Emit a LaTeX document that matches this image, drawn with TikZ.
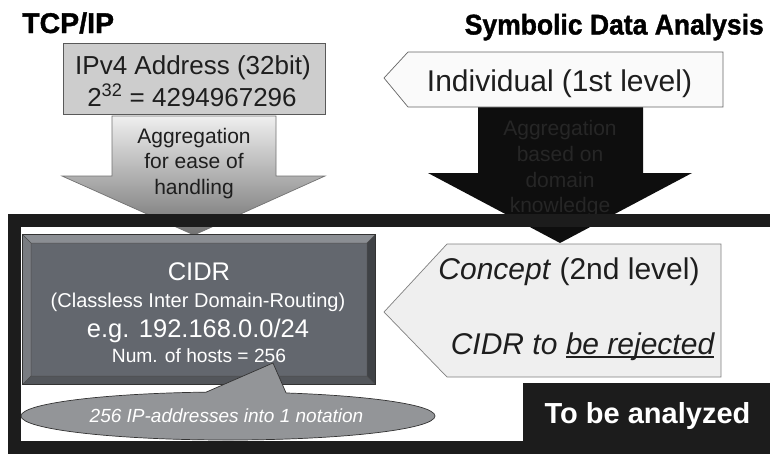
\documentclass[tikz,border=0pt]{standalone}
\usepackage{fontspec}
\setmainfont{Liberation Sans}
\newfontfamily\titlefont{Liberation Sans Bold}[FakeBold=1.3]
\newfontfamily\titlecond{Liberation Sans Bold}[FakeBold=1.3,FakeStretch=0.93]
\usetikzlibrary{shapes.geometric}
\definecolor{frameblk}{HTML}{1C1C1C}
\definecolor{ipfill}{HTML}{CDCDCD}
\definecolor{indfill}{HTML}{FAFAFA}
\definecolor{confill}{HTML}{EFEFEF}
\definecolor{txtdark}{HTML}{1E1E1E}
\definecolor{blkarrow}{HTML}{0E0E0E}
\definecolor{blktxt}{HTML}{262626}
\definecolor{cface}{HTML}{63676E}
\definecolor{cbtop}{HTML}{8B8E93}
\definecolor{cbleft}{HTML}{797C81}
\definecolor{cbbot}{HTML}{53565B}
\definecolor{cbright}{HTML}{3F4246}
\definecolor{notefill}{HTML}{939598}
\definecolor{arrtop}{HTML}{EFEFEF}
\definecolor{arrbot}{HTML}{727272}
\newcommand\fs[1]{\fontsize{#1}{#1}\selectfont}
\newcommand\thickul[1]{\setbox0\hbox{#1}\rlap{\rule[-4pt]{\wd0}{1.8pt}}\box0}
\begin{document}
\begin{tikzpicture}[x=1pt,y=-1pt,
  txt/.style={inner sep=0, anchor=base, text=txtdark},
  shapeline/.style={line width=0.7}]
\useasboundingbox (0,0) rectangle (770,453);
\clip (0,0) rectangle (770,453);
\fill[white] (0,0) rectangle (770,453);

% titles
\node[txt, anchor=base west, text=black, font=\titlefont\fs{28.5}] (tcp) at (22,33) {TCP/IP};
\node[txt, anchor=base east, text=black, font=\titlecond\fs{28.5}] (sda) at (764,34.5) {Symbolic Data Analysis};

% gray arrow
\path[top color=arrtop, bottom color=arrbot, draw=black!55, shapeline]
  (112,116) -- (276,116) -- (276,176) -- (325,176) -- (194,235) -- (62,176) -- (112,176) -- cycle;
% black arrow
\fill[blkarrow] (478,107) -- (643,107) -- (643,173) -- (692,173) -- (560,243) -- (428,173) -- (478,173) -- cycle;

% IPv4 box
\node[draw=black!65, fill=ipfill, shapeline, minimum width=262, minimum height=71, inner sep=0] (ipv4) at (194,78.5) {};
\node[txt, font=\fs{26}] (ipv4a) at (193,74) {IPv4 Address (32bit)};
\node[txt, font=\fs{26}] (ipv4b) at (192,106) {2\textsuperscript{32} = 4294967296};

% Individual
\draw[fill=indfill, draw=black!60, shapeline] (384,78) -- (408,52) -- (723,52) -- (723,107) -- (408,107) -- cycle;
\node[txt, font=\fs{30}] (indiv) at (559.5,91.5) {Individual (1st level)};

% arrow texts
\node[txt, font=\fs{21}] (ga1) at (194,143) {Aggregation};
\node[txt, font=\fs{21}] (ga2) at (194,168.5) {for ease of};
\node[txt, font=\fs{21}] (ga3) at (194,194) {handling};
\node[txt, text=blktxt, font=\fs{21}] (ba1) at (560,135) {Aggregation};
\node[txt, text=blktxt, font=\fs{21}] (ba2) at (560,161) {based on};
\node[txt, text=blktxt, font=\fs{21}] (ba3) at (560,187) {domain};
\node[txt, text=blktxt, font=\fs{21}] (ba4) at (560,212.5) {knowledge};

% frame
\draw[frameblk, line width=13.5] (14.5,220.5) rectangle (800,448);

% CIDR bevelled box
\node[fill=cface, minimum width=352, minimum height=149, inner sep=0] (cidr) at (199,309.5) {};
\fill[cbtop] (23,235) -- (375,235) -- (367,243) -- (31,243) -- cycle;
\fill[cbleft] (23,235) -- (31,243) -- (31,376) -- (23,384) -- cycle;
\fill[cbbot] (23,384) -- (375,384) -- (367,376) -- (31,376) -- cycle;
\fill[cbright] (375,235) -- (375,384) -- (367,376) -- (367,243) -- cycle;
\draw[black!70, line width=0.5] (31,243) rectangle (367,376)
  (23,235) -- (31,243) (375,235) -- (367,243) (23,384) -- (31,376) (375,384) -- (367,376);
\draw[black!80, shapeline] (cidr.north west) rectangle (cidr.south east);
\node[txt, text=white, font=\fs{25.5}] (c1) at (199,280) {CIDR};
\node[txt, text=white, font=\fs{20}] (c2) at (198,307) {(Classless Inter Domain-Routing)};
\node[txt, text=white, font=\fs{25.5}] (c3) at (198,337) {e.g. 192.168.0.0/24};
\node[txt, text=white, font=\fs{19.2}] (c4) at (199,362) {Num. of hosts = 256};

% Concept
\draw[fill=confill, draw=black!50, shapeline] (384,312) -- (447,244) -- (721,244) -- (721,377) -- (447,377) -- cycle;
\node[txt, font=\fs{30}] (concept) at (569,279) {\itshape Concept\/ \upshape (2nd level)};
\node[txt, font=\itshape\fs{30}] (reject) at (582.5,354) {CIDR to \thickul{be rejected}};

% note callout (ellipse + pointer)
\node[ellipse, draw=black!80, fill=notefill, shapeline, minimum width=414, minimum height=48, inner sep=0] (note) at (228,416) {};
\coordinate (ptip) at (273,363);
\fill[notefill] (206,396) -- (206,392.2) -- (ptip) -- (286,392.8) -- (286,396) -- cycle;
\draw[black!80, shapeline] (206,392.2) -- (ptip) -- (286,392.8);
\node[txt, text=white, font=\itshape\fs{19}] (notetxt) at (226.5,422) {256 IP-addresses into 1 notation};

% To be analyzed
\node[fill=frameblk, minimum width=260, minimum height=66, inner sep=0, anchor=north west] (tba) at (523,383) {};
\node[txt, text=white, font=\bfseries\fs{29}] (tbatxt) at (647.5,423) {To be analyzed};
\end{tikzpicture}
\end{document}
